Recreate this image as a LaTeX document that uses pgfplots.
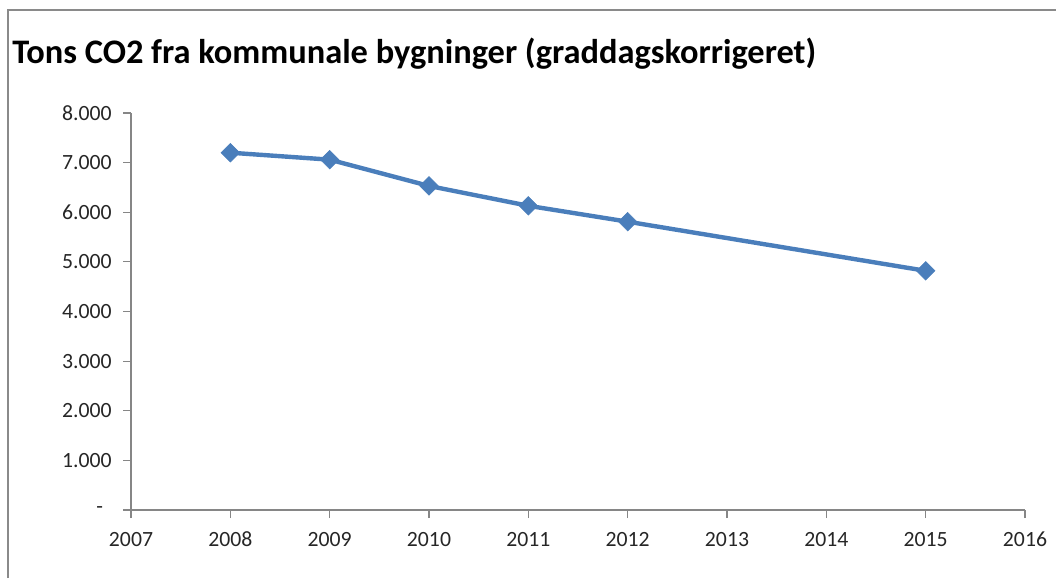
\documentclass[border=0pt]{standalone}
\usepackage{pgfplots}
\pgfplotsset{compat=1.18}
\usepackage{fontspec}
\setmainfont{Carlito}
\definecolor{lineblue}{HTML}{4A7EBB}
\definecolor{axgray}{HTML}{868686}
\definecolor{framegray}{HTML}{8A8A8A}
\begin{document}
\begin{tikzpicture}[x=1pt,y=1pt]
\path[use as bounding box] (0,0) rectangle (792,433.5);
\draw[framegray, line width=1.6pt] (6,0) -- (6,426) -- (792,426);
\node[anchor=base west, inner sep=0pt, font=\bfseries\fontsize{25.8}{30}\selectfont] at (9,386) {Tons CO2 fra kommunale bygninger (graddagskorrigeret)};
\begin{axis}[
  at={(98.25pt,51pt)}, anchor=south west,
  scale only axis, width=670.5pt, height=297.75pt,
  xmin=2007, xmax=2016, ymin=0, ymax=8000,
  axis x line*=bottom, axis y line*=left,
  axis line style={-, axgray, line width=0.8pt},
  xtick={2007,2008,...,2016},
  xticklabels={2007,2008,2009,2010,2011,2012,2013,2014,2015,2016},
  ytick={0,1000,...,8000},
  yticklabels={{-\hspace*{6.5pt}},1.000,2.000,3.000,4.000,5.000,6.000,7.000,8.000},
  tick align=outside, major tick length=6pt,
  tick style={axgray, line width=0.8pt},
  ticklabel style={font=\fontsize{16.3}{19}\selectfont, text=black!85},
  yticklabel style={xshift=-5pt},
  xticklabel style={anchor=north, text height=11pt, text depth=0pt, yshift=-7pt},
  clip=false,
]
\addplot[lineblue, line width=3.3pt, mark=square*, mark size=4.9pt, mark options={rotate=45, solid, fill=lineblue, draw=lineblue, line width=0.5pt}]
  coordinates {(2008,7200) (2009,7060) (2010,6530) (2011,6130) (2012,5810) (2015,4820)};
\end{axis}
\end{tikzpicture}
\end{document}
